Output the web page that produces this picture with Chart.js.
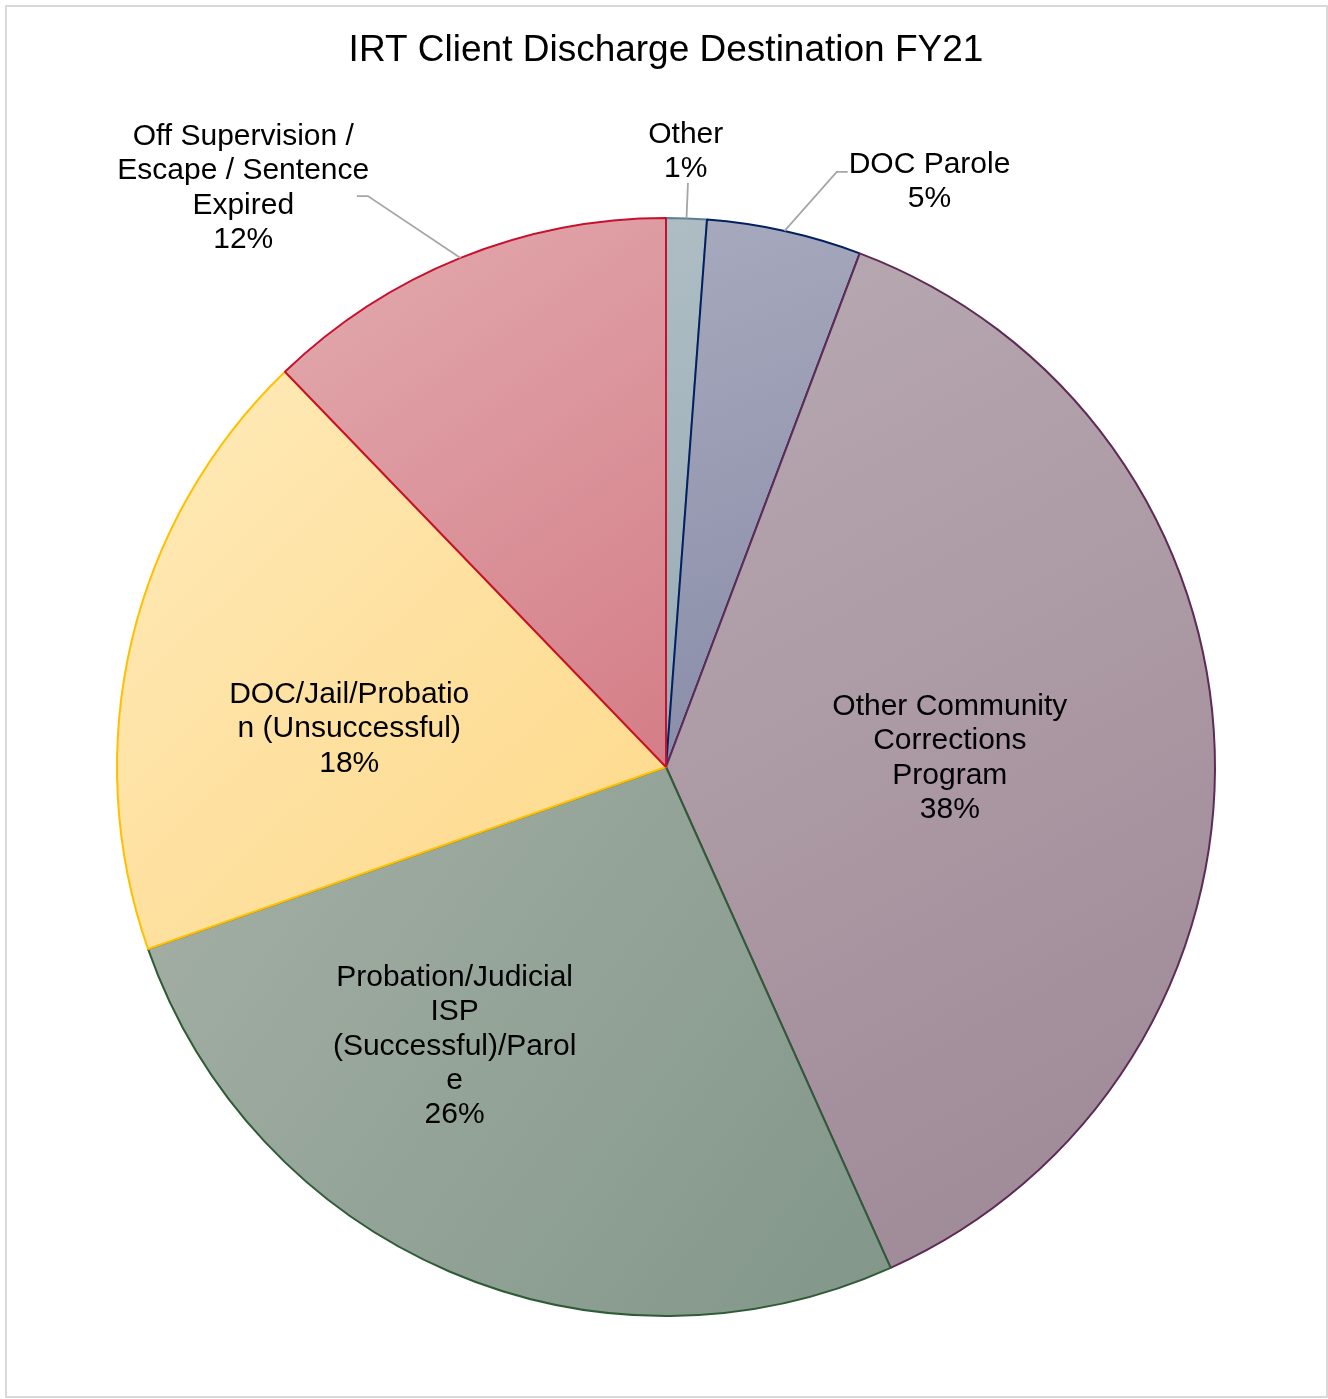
<!DOCTYPE html>
<html>
<head>
<meta charset="utf-8">
<script src="https://cdn.jsdelivr.net/npm/chart.js@4/dist/chart.umd.min.js"></script>
<style>
  html, body { margin: 0; padding: 0; background: #fff; }
  #wrap { width: 1328px; height: 1399px; position: relative; }
</style>
</head>
<body>
<div id="wrap"><canvas id="c" width="1328" height="1399"></canvas></div>
<script>
const chartTitle = 'IRT Client Discharge Destination FY21';

const categories = [
  'Other',
  'DOC Parole',
  'Other Community Corrections Program',
  'Probation/Judicial ISP (Successful)/Parole',
  'DOC/Jail/Probation (Unsuccessful)',
  'Off Supervision / Escape / Sentence Expired'
];

// share of discharges, percent
const shares = [1.19, 4.55, 37.55, 26.33, 18.17, 12.21];

// wrapped label text for each slice
const labelLines = [
  ['Other'],
  ['DOC Parole'],
  ['Other Community', 'Corrections', 'Program'],
  ['Probation/Judicial', 'ISP', '(Successful)/Parol', 'e'],
  ['DOC/Jail/Probatio', 'n (Unsuccessful)'],
  ['Off Supervision /', 'Escape / Sentence', 'Expired']
];

const fillLight = ['#aebdc4', '#a7a9bd', '#b8a9b1', '#a5b0a5', '#ffeab9', '#e2abaf'];
const fillDark  = ['#98abb4', '#888ba7', '#9d8795', '#82968a', '#fdd888', '#d47d87'];
const edgeColors = ['#5b8094', '#002060', '#5e2b57', '#2f5b37', '#ffc000', '#c8102e'];

// label centres, in pie radii from the pie centre
const labelAt = [[0.036, -1.121], [0.480, -1.066], [0.517, -0.016], [-0.385, 0.509], [-0.577, -0.069], [-0.770, -1.054]];
// leader line bends (after the slice edge point), in pie radii
const leaderPts = [[[0.040, -1.064]], [[0.311, -1.084], [0.331, -1.084]], null, null, null, [[-0.543, -1.040], [-0.563, -1.040]]];

const FONT = '"Liberation Sans", Arial, sans-serif';
const BORDER_W = 2;

function sliceGradient(context) {
  const chart = context.chart;
  const area = chart.chartArea;
  const i = context.dataIndex;
  if (!area || i === undefined) return fillLight[i || 0];
  const cx = (area.left + area.right) / 2;
  const cy = (area.top + area.bottom) / 2;
  const r = (Math.min(area.width, area.height) - BORDER_W) / 2;
  const data = context.dataset.data;
  const total = data.reduce((a, b) => a + b, 0);
  let before = 0;
  for (let k = 0; k < i; k++) before += data[k];
  const a0 = -Math.PI / 2 + 2 * Math.PI * before / total;
  const a1 = a0 + 2 * Math.PI * data[i] / total;
  let minX = cx, maxX = cx, minY = cy, maxY = cy;
  for (let s = 0; s <= 48; s++) {
    const a = a0 + (a1 - a0) * s / 48;
    const px = cx + r * Math.cos(a), py = cy + r * Math.sin(a);
    minX = Math.min(minX, px); maxX = Math.max(maxX, px);
    minY = Math.min(minY, py); maxY = Math.max(maxY, py);
  }
  const g = chart.ctx.createLinearGradient(minX, minY, maxX, maxY);
  g.addColorStop(0, fillLight[i]);
  g.addColorStop(1, fillDark[i]);
  return g;
}

const sliceLabels = {
  id: 'sliceLabels',
  afterDatasetsDraw(chart) {
    const ctx = chart.ctx;
    const meta = chart.getDatasetMeta(0);
    const data = chart.data.datasets[0].data;
    const total = data.reduce((a, b) => a + b, 0);
    ctx.save();
    meta.data.forEach((arc, i) => {
      const p = arc.getProps(['x', 'y', 'startAngle', 'endAngle', 'outerRadius'], true);
      const R = p.outerRadius;
      const mid = (p.startAngle + p.endAngle) / 2;
      if (leaderPts[i]) {
        ctx.beginPath();
        ctx.strokeStyle = '#a6a6a6';
        ctx.lineWidth = 1.8;
        ctx.moveTo(p.x + R * Math.cos(mid), p.y + R * Math.sin(mid));
        leaderPts[i].forEach(q => ctx.lineTo(p.x + q[0] * R, p.y + q[1] * R));
        ctx.stroke();
      }
      const lines = labelLines[i].concat([Math.round(data[i] / total * 100) + '%']);
      const lx = p.x + labelAt[i][0] * R;
      const ly = p.y + labelAt[i][1] * R;
      const lh = 34.3;
      ctx.fillStyle = '#000';
      ctx.font = '30px ' + FONT;
      ctx.textAlign = 'center';
      ctx.textBaseline = 'middle';
      lines.forEach((t, k) => {
        ctx.fillText(t, lx, ly + (k - (lines.length - 1) / 2) * lh);
      });
    });
    ctx.restore();
  }
};

const frame = {
  id: 'frame',
  afterDraw(chart) {
    const ctx = chart.ctx;
    ctx.save();
    ctx.strokeStyle = '#d9d9d9';
    ctx.lineWidth = 2;
    ctx.strokeRect(6, 6, 1321, 1391);
    ctx.restore();
  }
};

new Chart(document.getElementById('c'), {
  type: 'pie',
  data: {
    labels: categories,
    datasets: [{
      data: shares,
      backgroundColor: sliceGradient,
      borderColor: edgeColors,
      borderWidth: BORDER_W,
      hoverOffset: 0,
      offset: 0
    }]
  },
  options: {
    responsive: false,
    animation: false,
    devicePixelRatio: 1,
    layout: { padding: { top: 0, left: 116, right: 112, bottom: 82 } },
    plugins: {
      legend: { display: false },
      tooltip: { enabled: false },
      title: {
        display: true,
        text: chartTitle,
        color: '#000',
        font: { family: FONT, size: 37, weight: 'normal', lineHeight: 1.2 },
        padding: { top: 28.8, bottom: 143.8 }
      }
    }
  },
  plugins: [sliceLabels, frame]
});
</script>
</body>
</html>
